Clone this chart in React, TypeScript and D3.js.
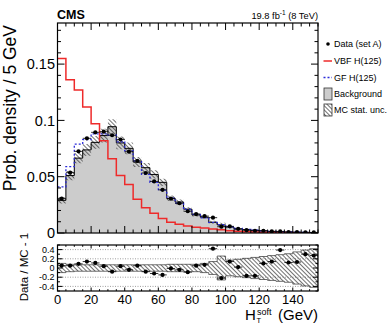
import React from 'react';
import * as d3 from 'd3';

// H_T^soft distribution, 5 GeV bins
const binWidth = 5;
const binStarts = [0, 5, 10, 15, 20, 25, 30, 35, 40, 45, 50, 55, 60, 65, 70, 75, 80, 85, 90, 95, 100, 105, 110, 115, 120, 125, 130, 135, 140, 145, 150];

const dataSetA = [0.0305, 0.0536, 0.0725, 0.0841, 0.0894, 0.09, 0.0868, 0.083, 0.0722, 0.064, 0.0533, 0.0458, 0.0383, 0.0305, 0.0264, 0.0193, 0.0168, 0.015, 0.0136, 0.0056, 0.0059, 0.0037, 0.0025, 0.002, 0.002, 0.0015, 0.0014, 0.0009, 0.0007, 0.0006, 0.0005];
const background = [0.029, 0.051, 0.0665, 0.0738, 0.0805, 0.0865, 0.0944, 0.08, 0.0752, 0.063, 0.058, 0.052, 0.045, 0.0308, 0.0275, 0.0212, 0.016, 0.014, 0.0095, 0.0072, 0.0052, 0.0036, 0.003, 0.0024, 0.0018, 0.0013, 0.001, 0.0008, 0.0006, 0.0005, 0.0004];
const vbfH125 = [0.155, 0.136, 0.127, 0.112, 0.097, 0.082, 0.066, 0.051, 0.043, 0.03, 0.0225, 0.0175, 0.0128, 0.0095, 0.0078, 0.0062, 0.0052, 0.0045, 0.0036, 0.0028, 0.0021, 0.0016, 0.0012, 0.0009, 0.0007, 0.0006, 0.0005, 0.0004, 0.0003, 0.0003, 0.0002];
const gfH125 = [0.041, 0.059, 0.079, 0.083, 0.088, 0.088, 0.087, 0.081, 0.073, 0.064, 0.052, 0.045, 0.038, 0.031, 0.0265, 0.021, 0.0165, 0.0135, 0.0095, 0.0075, 0.0055, 0.004, 0.0032, 0.0025, 0.0018, 0.0014, 0.0011, 0.0009, 0.0007, 0.0005, 0.0004];
// relative MC stat. uncertainty of the background
const mcRelUnc = [0.1, 0.08, 0.07, 0.07, 0.07, 0.07, 0.07, 0.07, 0.07, 0.07, 0.07, 0.07, 0.07, 0.08, 0.08, 0.08, 0.08, 0.1, 0.14, 0.26, 0.17, 0.19, 0.21, 0.23, 0.25, 0.27, 0.29, 0.31, 0.35, 0.39, 0.42];
// Data / MC - 1
const ratioValues = [0.05, 0.05, 0.09, 0.14, 0.11, 0.04, -0.08, 0.04, -0.04, 0.05, -0.08, -0.12, -0.15, -0.01, -0.04, -0.09, 0.05, 0.07, 0.42, -0.22, 0.14, 0.02, -0.17, -0.17, 0.1, 0.14, 0.39, 0.12, 0.13, 0.3, 0.27];

const mainYTicks = [0, 0.05, 0.1, 0.15];
const mainYLabels = ['0', '0.05', '0.1', '0.15'];
const xTicks = [0, 20, 40, 60, 80, 100, 120, 140];
const ratioYTicks = [-0.4, -0.2, 0, 0.2, 0.4];
const ratioYLabels = ['-0.4', '-0.2', '0', '0.2', '0.4'];
const ratioGrid = [-0.4, -0.2, 0.2, 0.4];

const legendItems = ['Data (set A)', 'VBF H(125)', 'GF H(125)', 'Background', 'MC stat. unc.'];

const FONT = '"Liberation Sans", Arial, Helvetica, sans-serif';
const RED = '#ee2a2a';
const BLUE = '#2b2bd9';
const GRAY = '#cccccc';

const L = 57.5, R = 318;
const mainTop = 23, mainBottom = 233;
const ratioTop = 245, ratioBottom = 291;

const x = d3.scaleLinear().domain([0, 155]).range([L, R]);
const y = d3.scaleLinear().domain([0, 0.1865]).range([mainBottom, mainTop]);
const yr = d3.scaleLinear().domain([-0.5, 0.5]).range([ratioBottom, ratioTop]);

type Pt = [number, number];

const stepPoints = (vals: number[]): Pt[] => {
  const pts: Pt[] = vals.map((v, i) => [binStarts[i], v]);
  pts.push([binStarts[vals.length - 1] + binWidth, vals[vals.length - 1]]);
  return pts;
};

const stepLine = (vals: number[], ys: d3.ScaleLinear<number, number>) =>
  d3.line<Pt>().x(d => x(d[0])).y(d => ys(d[1])).curve(d3.curveStepAfter)(stepPoints(vals)) || '';

const stepArea = (lo: number[], hi: number[], ys: d3.ScaleLinear<number, number>) => {
  const pts = stepPoints(hi).map((p, i) => ({ x: p[0], hi: p[1], lo: i < lo.length ? lo[i] : lo[lo.length - 1] }));
  return d3.area<{ x: number; hi: number; lo: number }>()
    .x(d => x(d.x)).y0(d => ys(d.lo)).y1(d => ys(d.hi))
    .curve(d3.curveStepAfter)(pts) || '';
};

const xMinor = d3.range(0, 156, 5);
const mainYMinor = d3.range(0, 0.186, 0.01);
const ratioYMinor = d3.range(-0.5, 0.51, 0.1);

const App = () => {
  const zeros = background.map(() => 0);
  const uncHi = background.map((b, i) => b * (1 + mcRelUnc[i]));
  const uncLo = background.map((b, i) => b * (1 - mcRelUnc[i]));
  const rHi = mcRelUnc.map(u => u);
  const rLo = mcRelUnc.map(u => -u);

  const xTickMarks = (top: number, bottom: number, major: number, minor: number) => (
    <g stroke="#000" strokeWidth={1}>
      {xMinor.map(v => {
        const len = v % 20 === 0 ? major : minor;
        return (
          <g key={v}>
            <line x1={x(v)} x2={x(v)} y1={bottom} y2={bottom - len} />
            <line x1={x(v)} x2={x(v)} y1={top} y2={top + len} />
          </g>
        );
      })}
    </g>
  );

  return (
    <svg width={391} height={323} style={{ position: 'absolute', left: 0, top: 0, background: '#fff' }} fontFamily={FONT}>
      <defs>
        <pattern id="hatch" patternUnits="userSpaceOnUse" width={3} height={3} patternTransform="rotate(45)">
          <line x1={0} y1={1.5} x2={3} y2={1.5} stroke="#333" strokeWidth={0.7} />
        </pattern>
        <clipPath id="mainClip"><rect x={L} y={mainTop} width={R - L} height={mainBottom - mainTop} /></clipPath>
        <clipPath id="ratioClip"><rect x={L} y={ratioTop} width={R - L} height={ratioBottom - ratioTop} /></clipPath>
      </defs>

      {/* main panel */}
      <g clipPath="url(#mainClip)">
        <path d={stepArea(zeros, background, y)} fill={GRAY} />
        <path d={stepArea(uncLo, uncHi, y)} fill="url(#hatch)" />
        <path d={stepLine(background, y)} fill="none" stroke="#000" strokeWidth={1} />
        <path d={stepLine(vbfH125, y)} fill="none" stroke={RED} strokeWidth={1.5} />
        <path d={stepLine(gfH125, y)} fill="none" stroke={BLUE} strokeWidth={1.3} strokeDasharray="2,2" />
        {dataSetA.map((v, i) => (
          <g key={i}>
            <line x1={x(binStarts[i])} x2={x(binStarts[i] + binWidth)} y1={y(v)} y2={y(v)} stroke="#000" strokeWidth={0.8} />
            <circle cx={x(binStarts[i] + binWidth / 2)} cy={y(v)} r={2.1} fill="#000" />
          </g>
        ))}
      </g>
      {xTickMarks(mainTop, mainBottom, 7, 3.5)}
      <g stroke="#000" strokeWidth={1}>
        {mainYMinor.map((v, i) => {
          const len = i % 5 === 0 ? 7 : 3.5;
          return (
            <g key={i}>
              <line x1={L} x2={L + len} y1={y(v)} y2={y(v)} />
              <line x1={R} x2={R - len} y1={y(v)} y2={y(v)} />
            </g>
          );
        })}
      </g>
      <rect x={L} y={mainTop} width={R - L} height={mainBottom - mainTop} fill="none" stroke="#000" strokeWidth={1.2} />
      {mainYTicks.map((v, i) => (
        <text key={v} x={55} y={y(v)} dy="0.36em" textAnchor="end" fontSize={14.5}>{mainYLabels[i]}</text>
      ))}
      <text transform="translate(16,25) rotate(-90)" textAnchor="end" fontSize={17.5}>Prob. density / 5 GeV</text>

      <text x={57} y={18.5} fontSize={12.5} fontWeight="bold">CMS</text>
      <text x={318} y={19} textAnchor="end" fontSize={9.3}>
        19.8 fb<tspan fontSize={6.5} dy={-4}>-1</tspan><tspan dy={4}> (8 TeV)</tspan>
      </text>

      {/* legend */}
      <g fontSize={9}>
        <circle cx={328} cy={44} r={1.8} fill="#000" />
        <line x1={323.5} x2={332} y1={61} y2={61} stroke={RED} strokeWidth={1.5} />
        <line x1={323.5} x2={332} y1={77.5} y2={77.5} stroke={BLUE} strokeWidth={1.3} strokeDasharray="2,2" />
        <rect x={324} y={88} width={8} height={12} fill={GRAY} stroke="#333" strokeWidth={0.8} />
        <rect x={324} y={104} width={8} height={12} fill="#fff" />
        <rect x={324} y={104} width={8} height={12} fill="url(#hatch)" stroke="#333" strokeWidth={0.8} />
        {legendItems.map((t, i) => (
          <text key={t} x={334} y={[47, 64, 81, 97, 113][i]}>{t}</text>
        ))}
      </g>

      {/* ratio panel */}
      <g stroke="#888" strokeWidth={0.8} strokeDasharray="1,1.5">
        {ratioGrid.map(v => <line key={v} x1={L} x2={R} y1={yr(v)} y2={yr(v)} />)}
      </g>
      <g clipPath="url(#ratioClip)">
        <path d={stepArea(rLo, rHi, yr)} fill="url(#hatch)" stroke="#333" strokeWidth={0.7} />
        {ratioValues.map((v, i) => (
          <g key={i}>
            <line x1={x(binStarts[i])} x2={x(binStarts[i] + binWidth)} y1={yr(v)} y2={yr(v)} stroke="#000" strokeWidth={0.8} />
            <circle cx={x(binStarts[i] + binWidth / 2)} cy={yr(v)} r={2.1} fill="#000" />
          </g>
        ))}
      </g>
      {xTickMarks(ratioTop, ratioBottom, 3.5, 1.8)}
      <g stroke="#000" strokeWidth={1}>
        {ratioYMinor.map((v, i) => {
          const len = i % 2 === 1 ? 5 : 2.5;
          return (
            <g key={i}>
              <line x1={L} x2={L + len} y1={yr(v)} y2={yr(v)} />
              <line x1={R} x2={R - len} y1={yr(v)} y2={yr(v)} />
            </g>
          );
        })}
      </g>
      <rect x={L} y={ratioTop} width={R - L} height={ratioBottom - ratioTop} fill="none" stroke="#000" strokeWidth={1.2} />
      {ratioYTicks.map((v, i) => (
        <text key={v} x={54.5} y={yr(v)} dy="0.36em" textAnchor="end" fontSize={9}>{ratioYLabels[i]}</text>
      ))}
      {xTicks.map(v => (
        <text key={v} x={x(v)} y={303.5} textAnchor="middle" fontSize={13}>{v}</text>
      ))}
      <text transform="translate(28,267) rotate(-90)" textAnchor="middle" fontSize={11.5}>Data / MC - 1</text>

      <text x={245} y={320} fontSize={15}>H</text>
      <text x={257} y={314.5} fontSize={9}>soft</text>
      <text x={256.5} y={322.5} fontSize={7.5}>T</text>
      <text x={318} y={320} textAnchor="end" fontSize={15}>(GeV)</text>
    </svg>
  );
};

export default App;
